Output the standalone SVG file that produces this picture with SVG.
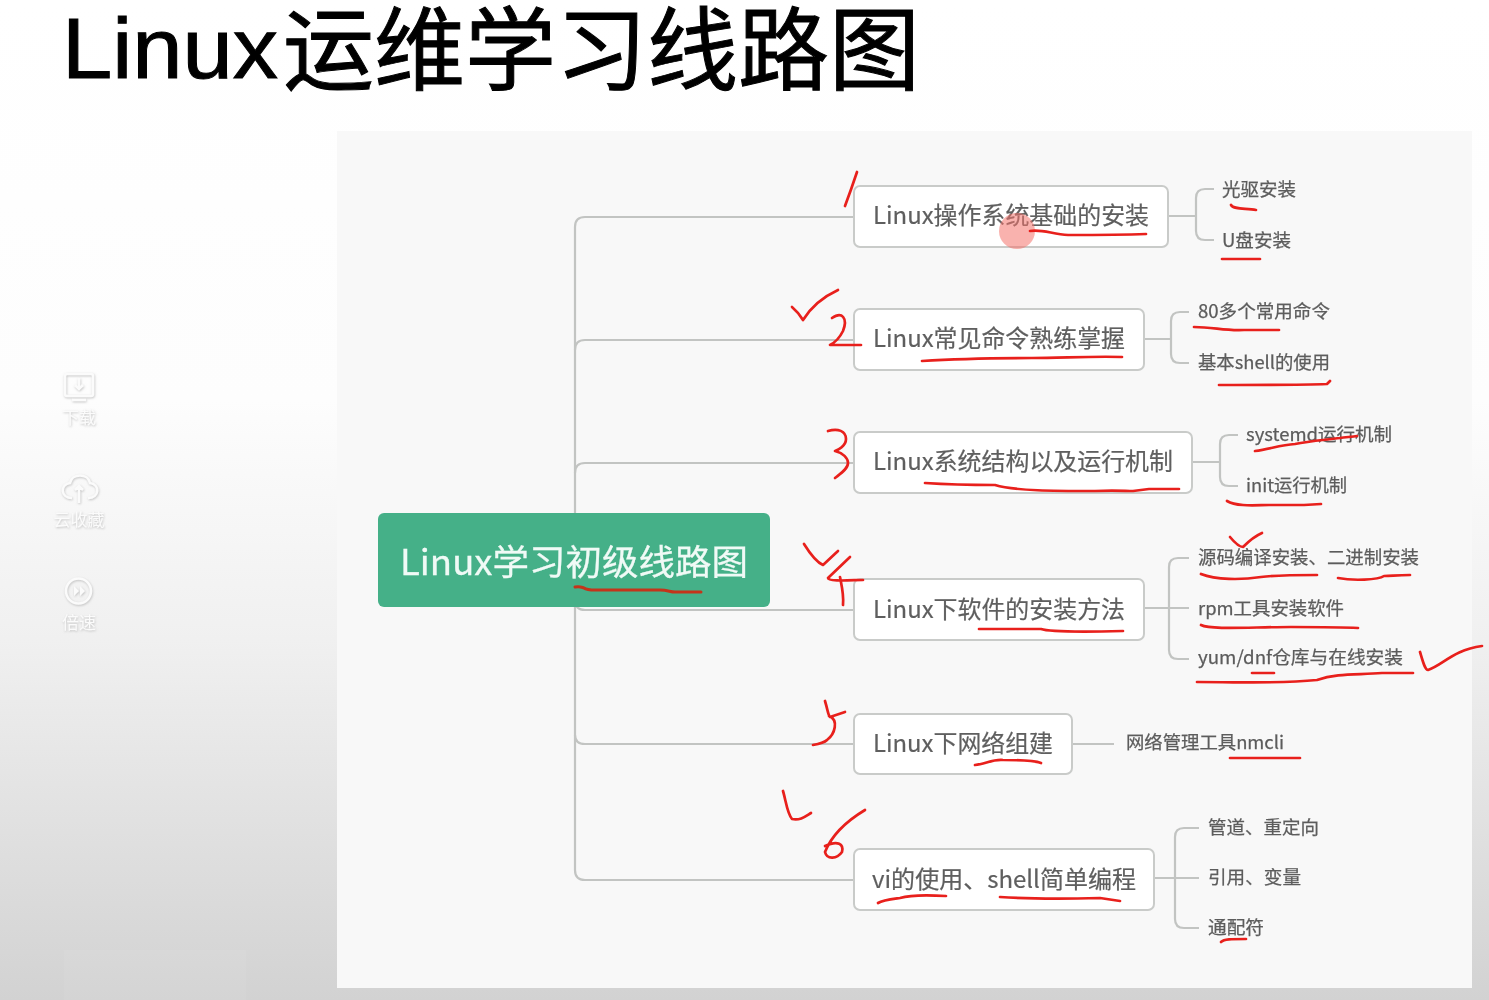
<svg xmlns="http://www.w3.org/2000/svg" width="1489" height="1000" viewBox="0 0 1489 1000">
<defs>
<linearGradient id="bg" gradientUnits="userSpaceOnUse" x1="0" y1="0" x2="0" y2="1000"><stop offset="0" stop-color="#ffffff"/><stop offset="0.4" stop-color="#fdfdfd"/><stop offset="0.64" stop-color="#f0f0f0"/><stop offset="1" stop-color="#d2d2d2"/></linearGradient>
<filter id="blur" x="-5%" y="-10%" width="110%" height="120%"><feGaussianBlur stdDeviation="0.5"/></filter>
<filter id="emb" x="-20%" y="-20%" width="140%" height="140%"><feDropShadow dx="0.600" dy="1" stdDeviation="0.8" flood-color="#b4b4b4" flood-opacity="0.8"/></filter>
</defs>
<style>
text{font-family:"Noto Sans CJK SC","Noto Sans",sans-serif}
.node rect{fill:#fff;stroke:#c9cbc9;stroke-width:2}
.t{font-size:24px;fill:#5e5e5e;stroke:#5e5e5e;stroke-width:0.2;filter:url(#blur)}
.s{font-size:18px;fill:#5c5c5c;stroke:#5c5c5c;stroke-width:0.25;filter:url(#blur)}
.c path{fill:none;stroke:#c2c4c2;stroke-width:2.2}
.red path{fill:none;stroke:#e8201c;stroke-width:2.7;stroke-linecap:round;stroke-linejoin:round}
.ic{fill:none;stroke:#fbfbfb;stroke-width:2.5}
.il{font-size:17px;fill:#fbfbfb}
#title{font-family:"Liberation Sans","Noto Sans CJK SC",sans-serif}
</style>
<rect width="1489" height="1000" fill="url(#bg)"/>
<rect x="64" y="950" width="182" height="50" fill="#ffffff" opacity="0.06"/>
<rect x="337" y="131" width="1135" height="857" fill="#f8f8f8"/>
<text id="title" font-size="91" fill="#000" stroke="#000" stroke-width="1"><tspan x="62" y="78" font-size="86" textLength="216" lengthAdjust="spacingAndGlyphs">Linux</tspan><tspan x="283" y="83">运维学习线路图</tspan></text>
<g id="sidebar" filter="url(#emb)">
<rect class="ic" x="65" y="374" width="28" height="22" rx="2"/><path class="ic" d="M79 378v10M75 385l4 4 4-4M72 400h14"/>
<text class="il" x="79" y="424" text-anchor="middle">下载</text>
<path class="ic" d="M72 498c-12 0-12-14-2-15 2-10 18-10 20 0 10 1 10 15-2 15M79 503v-17M75 490l4-4 4 4"/>
<text class="il" x="79" y="526" text-anchor="middle">云收藏</text>
<circle class="ic" cx="78.500" cy="591" r="12.500"/><path d="M74 586l5 5-5 5zM80 586l5 5-5 5z" fill="#fbfbfb"/>
<text class="il" x="79" y="629" text-anchor="middle">倍速</text>
</g>
<g id="connectors" class="c">
<path d="M575 514V227q0-10 10-10H854"/>
<path d="M575 350q0-10 10-10H854"/>
<path d="M575 473q0-10 10-10H854"/>
<path d="M575 600q0 10 10 10H854"/>
<path d="M575 606V735q0 9 10 9H854"/>
<path d="M575 735V870q0 10 10 10H854"/>
<path d="M1168 216h28M1196 216V198q0-9 9-9h9M1196 216v15q0 9 9 9h9"/>
<path d="M1144 339h27M1171 339V321q0-9 9-9h9M1171 339v15q0 9 9 9h9"/>
<path d="M1192 462h28M1220 462V444q0-9 9-9h9M1220 462v15q0 9 9 9h9"/>
<path d="M1144 608h45M1169 608V567q0-9 9-9h11M1169 608v42q0 9 9 9h11"/>
<path d="M1072 744h42"/>
<path d="M1154 878h45M1175 878V837q0-9 9-9h15M1175 878v41q0 9 9 9h15"/>
</g>
<g id="root"><rect x="378" y="513" width="392" height="94" rx="6" fill="#45b088"/><text x="574" y="575" font-size="35" fill="#f0faf6" stroke="#f0faf6" stroke-width="0.3" text-anchor="middle" textLength="348" lengthAdjust="spacingAndGlyphs" filter="url(#blur)">Linux学习初级线路图</text></g>
<g id="n1" class="node"><rect x="854" y="186" width="314" height="61" rx="6"/><text class="t" x="873" y="224" textLength="276" lengthAdjust="spacingAndGlyphs">Linux操作系统基础的安装</text></g>
<g id="n2" class="node"><rect x="854" y="309" width="290" height="61" rx="6"/><text class="t" x="873" y="347" textLength="252" lengthAdjust="spacingAndGlyphs">Linux常见命令熟练掌握</text></g>
<g id="n3" class="node"><rect x="854" y="432" width="338" height="61" rx="6"/><text class="t" x="873" y="470" textLength="300" lengthAdjust="spacingAndGlyphs">Linux系统结构以及运行机制</text></g>
<g id="n4" class="node"><rect x="854" y="579" width="290" height="61" rx="6"/><text class="t" x="873" y="618" textLength="252" lengthAdjust="spacingAndGlyphs">Linux下软件的安装方法</text></g>
<g id="n5" class="node"><rect x="854" y="714" width="218" height="60" rx="6"/><text class="t" x="873" y="752" textLength="180" lengthAdjust="spacingAndGlyphs">Linux下网络组建</text></g>
<g id="n6" class="node"><rect x="854" y="849" width="300" height="61" rx="6"/><text class="t" x="872" y="888" textLength="264" lengthAdjust="spacingAndGlyphs">vi的使用、shell简单编程</text></g>
<g id="leaves">
<text id="l1" class="s" x="1222" y="196" textLength="74" lengthAdjust="spacingAndGlyphs">光驱安装</text>
<text id="l2" class="s" x="1222" y="247" textLength="69" lengthAdjust="spacingAndGlyphs">U盘安装</text>
<text id="l3" class="s" x="1198" y="318" textLength="132" lengthAdjust="spacingAndGlyphs">80多个常用命令</text>
<text id="l4" class="s" x="1198" y="369" textLength="132" lengthAdjust="spacingAndGlyphs">基本shell的使用</text>
<text id="l5" class="s" x="1246" y="441" textLength="146" lengthAdjust="spacingAndGlyphs">systemd运行机制</text>
<text id="l6" class="s" x="1246" y="492" textLength="101" lengthAdjust="spacingAndGlyphs">init运行机制</text>
<text id="l7" class="s" x="1198" y="564" textLength="221" lengthAdjust="spacingAndGlyphs">源码编译安装、二进制安装</text>
<text id="l8" class="s" x="1198" y="615" textLength="146" lengthAdjust="spacingAndGlyphs">rpm工具安装软件</text>
<text id="l9" class="s" x="1198" y="664" textLength="205" lengthAdjust="spacingAndGlyphs">yum/dnf仓库与在线安装</text>
<text id="l10" class="s" x="1126" y="749" textLength="158" lengthAdjust="spacingAndGlyphs">网络管理工具nmcli</text>
<text id="l11" class="s" x="1208" y="834" textLength="111" lengthAdjust="spacingAndGlyphs">管道、重定向</text>
<text id="l12" class="s" x="1208" y="884" textLength="93" lengthAdjust="spacingAndGlyphs">引用、变量</text>
<text id="l13" class="s" x="1208" y="934" textLength="56" lengthAdjust="spacingAndGlyphs">通配符</text>
</g>
<circle cx="1017" cy="231" r="18" fill="#f4736c" opacity="0.55"/>
<path id="root-underline" d="M575 587c5-1 6 0 9 1 4 3 10 2 18 2h58c8 0 10 2 15 2h26" fill="none" stroke="#c4341a" stroke-width="3" stroke-linecap="round"/>
<g class="red">
<path d="M857 172Q851 190 845 206"/>
<path d="M1030 231c12-2 22 3 38 4 30 0 52 0 78-1"/>
<path d="M1231 205c3 5 15 3 25 5"/>
<path d="M1222 259h38"/>
<path d="M792 307q7 6 11 13c10-16 22-24 35-30"/>
<path d="M832 318c10-7 16 0 11 13-3 6-7 11-13 14h31"/>
<path d="M1194 327c20 0 30 4 50 3h35"/>
<path d="M922 361c30-2 60-3 110-3 30 0 60-2 90-1"/>
<path d="M1219 385c40 0 80 0 108-1l3-3"/>
<path d="M828 431c10-3 18 0 18 8 0 7-8 11-11 12 8 2 13 7 13 12 0 6-8 11-13 15"/>
<path d="M1255 451c15-2 25-6 40-7 15-3 30-4 45-6 5-1 12-1 17-2"/>
<path d="M925 483c30 2 50 2 70 2 20 6 60 6 100 6 20-1 30 0 38 0l16-2h30"/>
<path d="M1227 501c10 6 30 4 42 4h35l17-1"/>
<path d="M1230 537c5 6 10 10 13 10 8-8 12-11 19-14"/>
<path d="M804 544c5 8 12 18 19 21l15-14"/>
<path d="M850 557l-22 21c0 4 25 2 35 2M840 577c2 10 4 18 3 28"/>
<path d="M1201 574c15 6 40 6 60 3 15-2 30-2 56-2"/>
<path d="M1338 578c15 3 40 2 46-2 8 0 12-1 26-1"/>
<path d="M1201 625c10 5 50 2 90 2 30 0 50 0 67 1"/>
<path d="M979 629c20 0 40 0 62 0 8 3 40 3 82 2"/>
<path d="M1420 652c3 10 5 18 8 18 15-5 25-20 54-24"/>
<path d="M1252 673h22"/>
<path d="M1197 682c50 0 80 2 120-2 20-7 40-5 65-7h31"/>
<path d="M825 701c3 10 3 14 5 16l15-5M829 716c10 4 6 18-2 24-3 3-8 4-14 5"/>
<path d="M975 765c10-1 18-6 28-5 15 0 30 0 38 3"/>
<path d="M1230 758h70"/>
<path d="M783 791c3 10 4 22 9 28 8 2 14-3 19-6"/>
<path d="M865 810c-15 9-32 22-40 42 2 8 12 7 17 0 2-8-4-12-17-6"/>
<path d="M878 903c5-3 15-4 22-5 10-3 30-3 46-2"/>
<path d="M1000 897c30 2 60 2 100 1l20 3"/>
<path d="M1221 942c3-3 10-3 25-3"/>
</g>
</svg>
